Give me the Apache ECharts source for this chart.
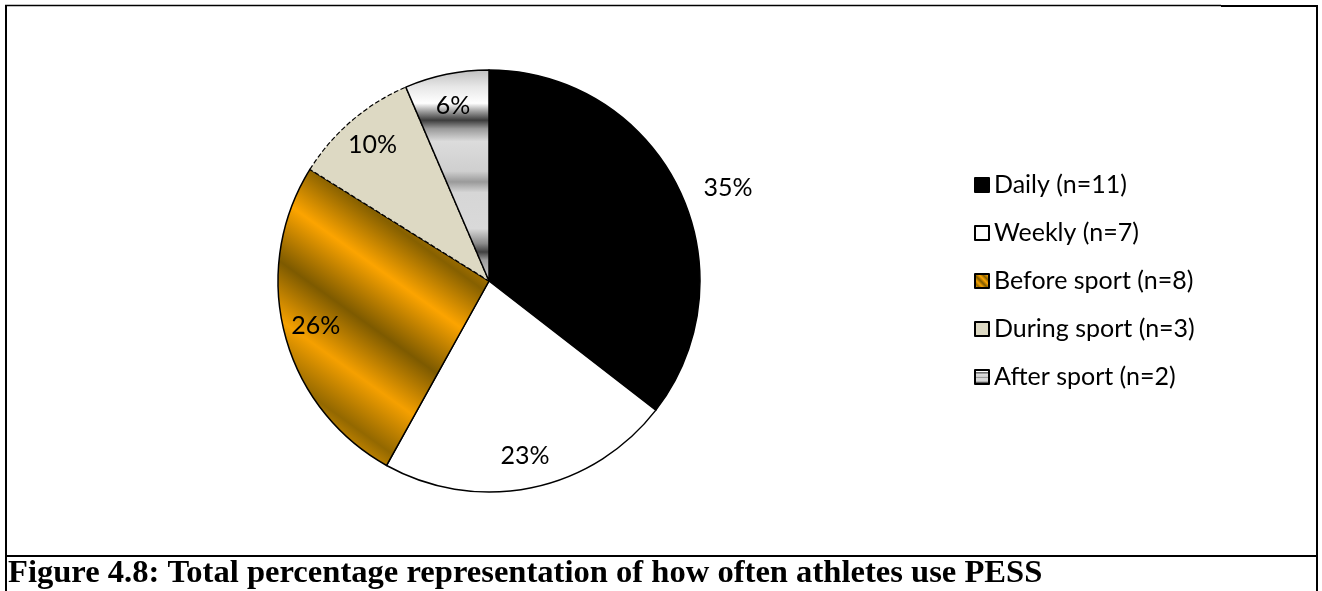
<!DOCTYPE html>
<html>
<head>
<meta charset="utf-8">
<script src="https://cdn.jsdelivr.net/npm/echarts@6/dist/echarts.min.js"></script>
<style>
  html, body { margin: 0; padding: 0; background: #fff; }
  #chart { width: 1322px; height: 591px; }
</style>
</head>
<body>
<div id="chart"></div>
<script>
// ---- data ----
const categories = ['Daily (n=11)', 'Weekly (n=7)', 'Before sport (n=8)', 'During sport (n=3)', 'After sport (n=2)'];
const counts = [11, 7, 8, 3, 2];
const captionText = 'Figure 4.8: Total percentage representation of how often athletes use PESS';

// ---- styles ----
const gold = {
  type: 'linear', x: 1, y: 0, x2: 0, y2: 1,
  colorStops: [
    { offset: 0.00, color: '#c08400' },
    { offset: 0.14, color: '#ffa500' },
    { offset: 0.28, color: '#866000' },
    { offset: 0.40, color: '#fca400' },
    { offset: 0.54, color: '#7d5a00' },
    { offset: 0.67, color: '#f5a000' },
    { offset: 0.79, color: '#936800' },
    { offset: 0.90, color: '#ffa800' },
    { offset: 1.00, color: '#a87400' }
  ]
};
const silver = {
  type: 'linear', x: 0, y: 0, x2: 0, y2: 1,
  colorStops: [
    { offset: 0.00, color: '#bdbdbd' },
    { offset: 0.08, color: '#e6e6e6' },
    { offset: 0.16, color: '#ffffff' },
    { offset: 0.20, color: '#9a9a9a' },
    { offset: 0.24, color: '#3c3c3c' },
    { offset: 0.28, color: '#9a9a9a' },
    { offset: 0.34, color: '#dcdcdc' },
    { offset: 0.48, color: '#cfcfcf' },
    { offset: 0.53, color: '#9a9a9a' },
    { offset: 0.58, color: '#d6d6d6' },
    { offset: 0.75, color: '#d9d9d9' },
    { offset: 0.82, color: '#8a8a8a' },
    { offset: 0.86, color: '#404040' },
    { offset: 0.90, color: '#a0a0a0' },
    { offset: 1.00, color: '#d0d0d0' }
  ]
};
const sliceStyles = [
  { color: '#000000', borderColor: '#000', borderWidth: 1.5 },
  { color: '#ffffff', borderColor: '#000', borderWidth: 1.5 },
  { color: gold, borderColor: '#000', borderWidth: 1.5 },
  { color: '#DDD9C3', borderColor: '#000', borderWidth: 1.2, borderType: 'dashed' },
  { color: silver, borderColor: '#000', borderWidth: 1.5 }
];
const labelFont = 'Lato';
const center = [489, 281];
const R = 211;

const mainData = categories.map((name, i) => ({ name, value: counts[i], itemStyle: sliceStyles[i] }));
const labelData = categories.map((name, i) => {
  const item = { name, value: counts[i] };
  if (i === 0) {
    item.label = { position: 'outside', padding: [20, 0, 0, 0] };
    item.labelLine = { show: false, length: 0, length2: 20 };
  }
  return item;
});

const chart = echarts.init(document.getElementById('chart'), null, { renderer: 'canvas' });
chart.setOption({
  animation: false,
  backgroundColor: '#ffffff',
  legend: {
    orient: 'vertical',
    left: 974,
    top: 170,
    padding: 0,
    itemWidth: 14,
    itemHeight: 14,
    itemGap: 18,
    icon: 'rect',
    selectedMode: false,
    data: categories,
    textStyle: { fontFamily: labelFont, fontSize: 25, lineHeight: 30, color: '#000' }
  },
  series: [
    {
      type: 'pie',
      center: center,
      radius: [0, R],
      startAngle: 90,
      clockwise: true,
      percentPrecision: 0,
      avoidLabelOverlap: false,
      label: { show: false },
      labelLine: { show: false },
      emphasis: { disabled: true },
      data: mainData
    },
    {
      type: 'pie',
      center: center,
      radius: [141, R],
      startAngle: 90,
      clockwise: true,
      percentPrecision: 0,
      silent: true,
      avoidLabelOverlap: false,
      itemStyle: { color: 'rgba(0,0,0,0)', borderWidth: 0 },
      label: {
        show: true,
        position: 'inside',
        formatter: '{d}%',
        fontFamily: labelFont,
        fontSize: 25,
        color: '#000'
      },
      labelLine: { show: false },
      emphasis: { disabled: true },
      data: labelData
    }
  ],
  graphic: [
    { type: 'line', shape: { x1: 6, y1: 5, x2: 6, y2: 591 }, style: { stroke: '#000', lineWidth: 2 } },
    { type: 'line', shape: { x1: 1317, y1: 5, x2: 1317, y2: 591 }, style: { stroke: '#000', lineWidth: 2 } },
    { type: 'line', shape: { x1: 5, y1: 5.5, x2: 1221, y2: 5.5 }, style: { stroke: '#000', lineWidth: 1.5 } },
    { type: 'line', shape: { x1: 1221, y1: 6, x2: 1318, y2: 6 }, style: { stroke: '#000', lineWidth: 2 } },
    { type: 'line', shape: { x1: 5, y1: 556, x2: 1318, y2: 556 }, style: { stroke: '#000', lineWidth: 2 } },
    {
      type: 'text', left: 8, top: 557,
      style: { text: captionText, font: 'bold 32.6px "Liberation Serif"', fill: '#000' }
    }
  ]
});
</script>
</body>
</html>
